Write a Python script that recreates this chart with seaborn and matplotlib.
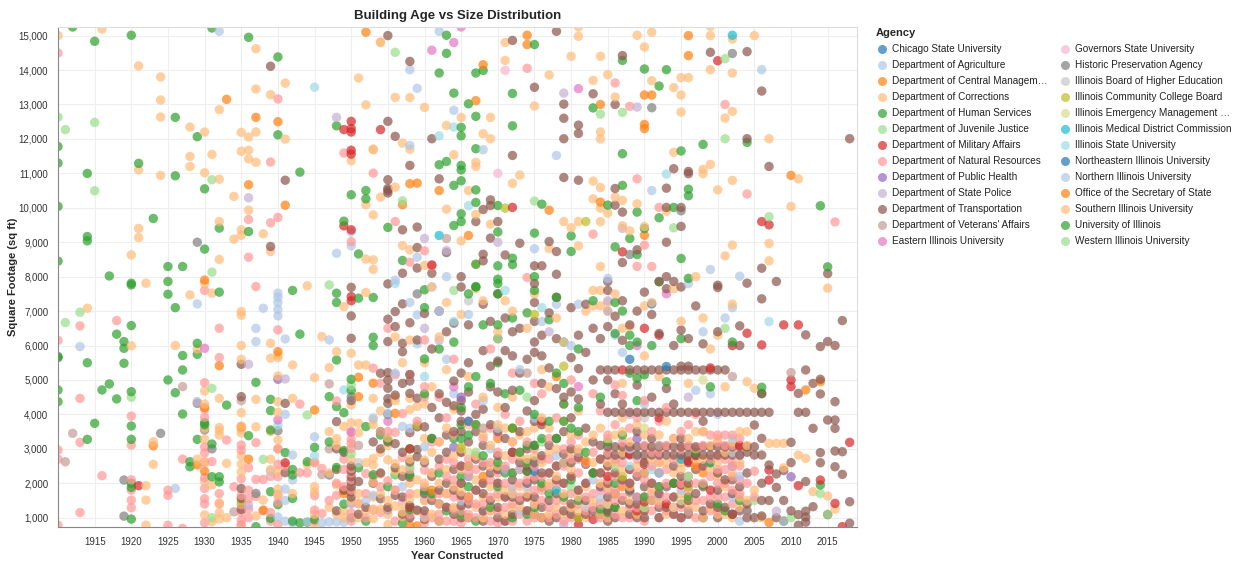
import pandas as pd
import seaborn as sns
import matplotlib.pyplot as plt
from matplotlib.lines import Line2D
from matplotlib.ticker import FuncFormatter

sns.set_style('white')
plt.rcParams['font.family'] = ['Liberation Sans', 'DejaVu Sans']

AGENCIES = [
    'Chicago State University', 'Department of Agriculture',
    'Department of Central Managem\u2026', 'Department of Corrections',
    'Department of Human Services', 'Department of Juvenile Justice',
    'Department of Military Affairs', 'Department of Natural Resources',
    'Department of Public Health', 'Department of State Police',
    'Department of Transportation', "Department of Veterans' Affairs",
    'Eastern Illinois University', 'Governors State University',
    'Historic Preservation Agency', 'Illinois Board of Higher Education',
    'Illinois Community College Board', 'Illinois Emergency Management \u2026',
    'Illinois Medical District Commission', 'Illinois State University',
    'Northeastern Illinois University', 'Northern Illinois University',
    'Office of the Secretary of State', 'Southern Illinois University',
    'University of Illinois', 'Western Illinois University',
]

# (year constructed, square footage) per agency
chicago_state = [(1988, 5600), (1993, 5390), (1989, 1590), (1975, 2350)]

dept_agriculture = [
    (1913, 5970), (1926, 1850), (1929, 7210), (1932, 15125), (1937, 6500), (1937, 6115), (1938, 7083),
    (1940, 7520), (1940, 7400), (1940, 7250), (1940, 7050), (1940, 6860), (1940, 1020),
    (1941, 6190), (1941, 4000), (1941, 1830), (1941, 1500), (1941, 900),
    (1942, 2820), (1942, 2100), (1942, 850), (1947, 6163), (1947, 880), (1948, 8680), (1948, 880),
    (1949, 870), (1950, 8895), (1950, 9300), (1950, 1450), (1952, 1500), (1953, 3900), (1953, 1650),
    (1955, 4040), (1956, 7900), (1956, 5200), (1957, 3650), (1957, 1900), (1958, 14010), (1958, 11810),
    (1958, 7250), (1958, 3600), (1959, 13470), (1959, 8565), (1959, 6890), (1959, 6050), (1960, 3060),
    (1960, 1050), (1945, 3350), (1939, 2350), (1946, 850), (1944, 880),
]

dept_cms = [
    (1933, 13150), (1937, 12625), (1940, 12500), (1941, 10075), (1936, 10670), (1952, 15100),
    (1958, 10700), (1957, 10090), (1959, 10715), (1962, 10500), (1966, 9195), (1945, 4128),
    (1949, 1800), (1951, 5078), (1951, 4515), (1953, 4905), (1936, 2700), (1938, 1220), (1923, 3090),
    (1929, 2530), (1932, 5415), (1930, 7900), (1930, 4200), (1930, 2350), (1940, 5823), (1958, 780),
    (1956, 4030), (1935, 3640), (1959, 760), (1949, 1700),
]

dept_corrections = [
    (1910, 15000), (1916, 15190), (1921, 14120), (1924, 13800), (1924, 13130), (1924, 12635),
    (1928, 12345), (1930, 12200), (1921, 11100), (1924, 10940), (1928, 11490), (1928, 11200),
    (1930, 11017), (1931, 11550), (1932, 10830), (1921, 9400), (1921, 9135), (1920, 8630),
    (1932, 8500), (1932, 9600), (1932, 12850), (1934, 10330), (1934, 9090), (1935, 12190),
    (1935, 11640), (1935, 9360), (1935, 9200), (1936, 12055), (1936, 11670), (1936, 9930),
    (1937, 14620), (1937, 13450), (1937, 12200), (1937, 11320), (1938, 9245), (1939, 13285),
    (1939, 8730), (1941, 13620), (1941, 11995), (1951, 13770), (1952, 12990), (1952, 10090),
    (1953, 11685), (1953, 9795), (1953, 8488), (1953, 8215), (1954, 14815), (1954, 10310),
    (1956, 13207), (1956, 10600), (1957, 11880), (1957, 8905), (1958, 13200), (1958, 11700),
    (1958, 8780), (1960, 12916), (1960, 8330), (1950, 11365), (1952, 8510), (1954, 14800),
    (1953, 11705), (1936, 11420),
    (1914, 7083), (1920, 5990), (1922, 7810), (1922, 1930), (1922, 1510), (1922, 785), (1923, 3207),
    (1923, 2550), (1926, 6000), (1928, 7470), (1929, 5900), (1929, 2700), (1930, 7800), (1930, 4680),
    (1930, 4300), (1930, 3600), (1930, 3280), (1930, 2630), (1930, 2050), (1930, 1080), (1931, 7520),
    (1931, 1950), (1931, 880), (1932, 4465), (1932, 3620), (1932, 3530), (1932, 3400), (1932, 1430),
    (1932, 1150), (1932, 960), (1933, 2578), (1933, 1000), (1935, 6986), (1935, 6880), (1935, 6000),
    (1935, 5600), (1935, 4050), (1935, 3660), (1935, 3560), (1935, 3460), (1935, 2800), (1935, 2560),
    (1935, 2330), (1935, 770), (1937, 4437), (1937, 3640), (1937, 1050), (1938, 1510), (1939, 6065),
    (1939, 5630), (1939, 3500), (1939, 2700), (1939, 2400), (1940, 5115), (1940, 5720), (1940, 5650),
    (1940, 4370), (1940, 4060), (1940, 3256), (1940, 3000), (1940, 2350), (1940, 1830), (1940, 1680),
    (1942, 5435), (1942, 4465), (1942, 1700), (1944, 7733), (1944, 2540), (1945, 5068), (1945, 1900),
    (1945, 1750), (1945, 1100), (1946, 6260), (1947, 5360), (1947, 3500), (1947, 2300), (1948, 5823),
    (1948, 3300), (1948, 3100), (1948, 1950), (1949, 7130), (1949, 3650), (1949, 1200), (1950, 5775),
    (1950, 4273), (1950, 3760), (1950, 1000), (1951, 5435), (1951, 3740), (1951, 3470), (1951, 1700),
    (1951, 1430), (1952, 7540), (1952, 5435), (1953, 4465), (1953, 3840), (1953, 3700), (1953, 2720),
    (1953, 2530), (1953, 2030), (1953, 1600), (1953, 970), (1954, 4100), (1954, 2270), (1954, 1250),
    (1955, 3320), (1955, 3100), (1955, 2680), (1955, 1500), (1956, 6250), (1956, 4500), (1956, 4400),
    (1956, 2570), (1956, 2350), (1956, 1340), (1957, 5500), (1957, 2390), (1957, 1170), (1957, 1030),
    (1958, 6160), (1958, 4470), (1958, 4140), (1958, 2000), (1958, 1550), (1959, 4230), (1959, 2100),
    (1959, 1700), (1960, 4300), (1960, 2670), (1960, 2000), (1960, 1000),
    (1945, 2600), (1945, 800), (1947, 1300), (1948, 1100), (1950, 2700), (1950, 1500), (1951, 1000),
    (1952, 2600), (1952, 1200), (1954, 2900), (1954, 1700), (1955, 1100), (1956, 1800), (1957, 1400),
    (1958, 2700), (1959, 1200), (1953, 1250), (1955, 800), (1949, 1000),
]

dept_human_services = [
    (1912, 15250), (1915, 14835), (1920, 15010), (1910, 11780), (1910, 11300), (1914, 10998),
    (1910, 10040), (1921, 11290), (1926, 12625), (1929, 12065), (1926, 10930), (1930, 10550),
    (1923, 9690), (1914, 9165), (1914, 9040), (1910, 8450), (1917, 8020), (1925, 8295), (1927, 8295),
    (1930, 8800), (1932, 9410), (1931, 15220), (1936, 14950), (1936, 9310), (1940, 14380),
    (1940, 12120), (1943, 11035), (1948, 12380), (1949, 9610), (1950, 10378), (1951, 8660),
    (1952, 10500), (1952, 10260), (1955, 9430), (1957, 8470), (1920, 7810),
    (1910, 5680), (1910, 5650), (1910, 4710), (1910, 4370), (1914, 5500), (1914, 3275), (1915, 3740),
    (1916, 4710), (1917, 4885), (1918, 6330), (1918, 4450), (1919, 6115), (1919, 5920), (1919, 5485),
    (1920, 7760), (1920, 6580), (1920, 4660), (1920, 3663), (1920, 3275), (1920, 2000), (1920, 1880),
    (1920, 960), (1925, 7860), (1925, 7490), (1925, 5000), (1926, 7100), (1926, 4630), (1927, 5710),
    (1927, 5290), (1927, 4010), (1928, 2625), (1928, 2480), (1929, 6065), (1929, 5745), (1929, 3275),
    (1930, 3760), (1930, 3700), (1931, 3140), (1931, 2190), (1932, 7550), (1932, 2190), (1932, 2040),
    (1933, 4270), (1936, 3382), (1937, 4930), (1937, 740), (1939, 4437), (1939, 4110), (1939, 3547),
    (1939, 1755), (1939, 980), (1940, 1380), (1941, 2890), (1942, 7600), (1942, 2400), (1942, 2240),
    (1942, 1560), (1943, 6330), (1944, 2625), (1944, 870), (1945, 3043), (1945, 950), (1947, 4515),
    (1947, 3200), (1948, 7520), (1948, 7250), (1948, 5580), (1948, 4225), (1948, 2460), (1949, 4050),
    (1949, 2950), (1949, 1396), (1950, 5020), (1950, 4700), (1951, 7375), (1951, 2450), (1952, 3645),
    (1952, 900), (1953, 7394), (1953, 6240), (1953, 6000), (1954, 3500), (1954, 3400), (1955, 3250),
    (1955, 1900), (1956, 2250), (1957, 840), (1958, 3000), (1958, 2250), (1958, 1230), (1960, 7620),
    (1960, 7100), (1960, 5610), (1960, 1800), (1943, 850), (1942, 900), (1953, 2250),
]

dept_juvenile = [
    (1910, 12635), (1911, 12270), (1915, 12480), (1915, 10495), (1931, 10815), (1931, 8130),
    (1911, 6667), (1913, 6967), (1920, 4500), (1931, 4757), (1931, 1000), (1938, 2695), (1944, 3982),
    (1947, 7760), (1950, 4850), (1950, 2860), (1956, 14515), (1957, 10200), (1956, 2250), (1958, 2500),
]

dept_military = [
    (1949, 12270), (1950, 12510), (1950, 12300), (1950, 12200), (1954, 12270), (1950, 11670),
    (1950, 11560), (1949, 9475), (1950, 9360), (1950, 7420), (1950, 7300), (1941, 2595), (1921, 1930),
    (1961, 8340), (1972, 10010), (1987, 8720), (2000, 14270), (2006, 9600), (2007, 9506), (1958, 3000),
    (1987, 5290), (1992, 6300), (1990, 6500), (2004, 6357), (1993, 1400), (1996, 2650), (2002, 6000),
    (2006, 6017), (2009, 6600), (2011, 6600), (2010, 5000), (2010, 4807), (2007, 2384), (2007, 2093),
    (2011, 1930), (2014, 2093), (2016, 1415), (2018, 3188), (2017, 740), (1990, 1460), (1990, 2550),
    (1976, 3800), (1972, 2900), (1985, 2200), (1997, 2800), (1999, 1800), (2003, 3100), (1989, 1200),
    (1966, 1600), (1974, 2350), (1981, 800), (1999, 5350), (1992, 3900), (1988, 2850), (1958, 1300),
    (1983, 950), (1995, 1950), (2002, 1100),
]

dept_natural_resources = [
    (1910, 14495), (1936, 9660), (1936, 8565), (1939, 11330), (1939, 9565), (1940, 13160),
    (1940, 9720), (1949, 11590), (1950, 9020), (1953, 11006), (1956, 9600), (1958, 8420), (1960, 8750),
    (1961, 8315), (1974, 14050), (1986, 13624), (1988, 12945), (1989, 10840), (1992, 10010),
    (1983, 9234), (1990, 8915), (1991, 8295), (1989, 8300), (2001, 13000), (2004, 10400),
    (2016, 9590), (1974, 7975),
    (1910, 6150), (1910, 2965), (1910, 2700), (1910, 785), (1913, 6570), (1913, 4465), (1913, 3188),
    (1913, 1150), (1916, 2220), (1918, 6725), (1920, 3950), (1920, 3110), (1920, 2100), (1920, 1800),
    (1920, 1510), (1920, 1290), (1925, 1800), (1925, 1650), (1925, 780), (1927, 2700), (1927, 690),
    (1930, 7600), (1930, 4920), (1930, 4150), (1930, 3915), (1930, 3060), (1930, 2880), (1930, 2600),
    (1930, 2160), (1930, 1850), (1930, 1550), (1930, 1400), (1930, 850), (1931, 2630), (1932, 6500),
    (1932, 5650), (1932, 1700), (1932, 1400), (1933, 3256), (1934, 1900), (1935, 3110), (1935, 2960),
    (1935, 2130), (1935, 1650), (1935, 1380), (1935, 1150), (1935, 930), (1935, 800), (1936, 2450),
    (1936, 1800), (1936, 1550), (1936, 1250), (1936, 1000), (1937, 7713), (1937, 3180), (1937, 2112),
    (1937, 1620), (1938, 2112), (1938, 1200), (1939, 2200), (1939, 1150), (1939, 900), (1940, 6455),
    (1940, 3000), (1940, 2550), (1940, 2190), (1940, 1650), (1940, 1450), (1940, 800), (1941, 2500),
    (1943, 2307), (1943, 4300), (1944, 2300), (1945, 1640), (1945, 1220), (1946, 2430), (1946, 1120),
    (1948, 4390), (1948, 2000), (1948, 1650), (1949, 2700), (1949, 2400), (1949, 1900), (1950, 3470),
    (1950, 3270), (1950, 3150), (1950, 3010), (1950, 2430), (1950, 2300), (1950, 2100), (1950, 1140),
    (1951, 1400), (1952, 2280), (1953, 5340), (1953, 2190), (1953, 1220), (1954, 4905), (1954, 3500),
    (1955, 6500), (1955, 3500), (1955, 2070), (1956, 3480), (1956, 5150), (1957, 4020), (1957, 2750),
    (1958, 5150), (1958, 1700), (1959, 3800), (1960, 6160), (1960, 4800), (1960, 4510), (1960, 2380),
    (1960, 1500), (1961, 3200), (1961, 1000), (1962, 4500), (1962, 2500), (1962, 1700), (1963, 3900),
    (1963, 2200), (1963, 1300), (1964, 5600), (1964, 3400), (1964, 2600), (1964, 1600), (1964, 900),
    (1965, 2900), (1965, 2000), (1965, 1200), (1966, 3800), (1966, 2700), (1966, 1500), (1967, 4300),
    (1967, 2400), (1967, 1800), (1967, 1000), (1968, 3300), (1968, 2600), (1968, 1400), (1969, 5900),
    (1969, 3600), (1969, 2100), (1969, 1200), (1970, 2900), (1970, 2300), (1970, 1700), (1971, 4000),
    (1971, 2000), (1971, 1300), (1971, 900), (1972, 5200), (1972, 2700), (1972, 1900), (1973, 3800),
    (1973, 2400), (1973, 1600), (1974, 3200), (1974, 2100), (1974, 1200), (1975, 4900), (1975, 3000),
    (1975, 2500), (1975, 1800), (1975, 1000), (1976, 4600), (1976, 2200), (1976, 1500), (1977, 2700),
    (1977, 1900), (1977, 1300), (1978, 3900), (1978, 2500), (1978, 1100), (1979, 4300), (1979, 3000),
    (1979, 2000), (1980, 5000), (1980, 2700), (1980, 1700), (1980, 1000), (1981, 3400), (1981, 2300),
    (1981, 1400), (1982, 2000), (1982, 1200), (1983, 4600), (1983, 2900), (1983, 1700), (1984, 4100),
    (1984, 2300), (1984, 1400), (1985, 3400), (1985, 2500), (1985, 1800), (1985, 1100), (1986, 4850),
    (1986, 3700), (1986, 2200), (1986, 1500), (1987, 4550), (1987, 3200), (1987, 2000), (1987, 1000),
    (1988, 3600), (1988, 2400), (1988, 1300), (1989, 3900), (1989, 2700), (1989, 1600), (1990, 4400),
    (1990, 2100), (1990, 1200), (1991, 3500), (1991, 2500), (1991, 1700), (1992, 3800), (1992, 2900),
    (1992, 1400), (1993, 4200), (1993, 2400), (1993, 1600), (1994, 3300), (1994, 2000), (1994, 1100),
    (1995, 3500), (1995, 2700), (1995, 1300), (1996, 3700), (1996, 2200), (1997, 4000), (1997, 2500),
    (1997, 1500), (1998, 3100), (1998, 2000), (1999, 3400), (1999, 2700), (1999, 1200), (2000, 3400),
    (2000, 3200), (2000, 2800), (2000, 1600), (2001, 3400), (2001, 3100), (2001, 2400), (2002, 3400),
    (2002, 2600), (2002, 1800), (2003, 3300), (2003, 2100), (2005, 2350),
]

# second pass over the crowded band below 3,500 sq ft
dnr_low_band = [
    (1945, 2600), (1945, 900), (1947, 1500), (1950, 1800), (1950, 1400), (1950, 900), (1952, 1000),
    (1952, 1700), (1954, 1900), (1954, 1150), (1956, 1800), (1956, 900), (1958, 2400), (1958, 1100),
    (1960, 1900), (1960, 1100), (1960, 850), (1961, 2300), (1961, 1600), (1962, 3200), (1962, 1100),
    (1963, 2700), (1963, 1700), (1963, 900), (1964, 2100), (1964, 1250), (1965, 2500), (1965, 1600),
    (1965, 850), (1966, 2300), (1966, 1100), (1967, 2800), (1967, 1400), (1968, 2000), (1968, 1000),
    (1969, 2600), (1969, 1600), (1969, 900), (1970, 3400), (1970, 2000), (1970, 1200), (1970, 850),
    (1971, 2500), (1971, 1600), (1972, 3200), (1972, 2300), (1972, 1400), (1972, 900), (1973, 2900),
    (1973, 2000), (1973, 1100), (1974, 2600), (1974, 1600), (1974, 900), (1975, 2200), (1975, 1400),
    (1976, 2700), (1976, 1800), (1976, 1000), (1977, 3300), (1977, 2300), (1977, 1000), (1978, 2000),
    (1978, 1500), (1979, 2500), (1979, 1500), (1979, 900), (1980, 3200), (1980, 2200), (1980, 1300),
    (1981, 2700), (1981, 1800), (1981, 1000), (1982, 2600), (1982, 1600), (1983, 2300), (1983, 1300),
    (1984, 2700), (1984, 1800), (1984, 1000), (1985, 2900), (1985, 2100), (1985, 1400), (1986, 2700),
    (1986, 1800), (1986, 1100), (1987, 2600), (1987, 1600), (1988, 3000), (1988, 2000), (1988, 1000),
    (1989, 2300), (1989, 1300), (1990, 3100), (1990, 2600), (1990, 1600), (1990, 900), (1991, 2900),
    (1991, 2000), (1991, 1200), (1992, 2600), (1992, 1900), (1992, 1000), (1993, 3100), (1993, 2000),
    (1993, 1200), (1994, 2700), (1994, 1600), (1995, 3000), (1995, 2000), (1995, 1000), (1996, 3100),
    (1996, 2600), (1996, 1800), (1996, 1200), (1997, 3000), (1997, 2000), (1997, 1000), (1998, 3500),
    (1998, 2500), (1998, 1500), (1999, 2200), (1999, 1600), (2000, 2400), (2000, 2000), (2000, 1200),
    (2001, 2700), (2001, 2000), (2001, 1600), (2002, 3100), (2002, 2200), (2002, 1400), (2003, 2500),
    (2003, 1700), (2004, 2000), (2004, 1200), (2005, 1600),
]

dept_public_health = [(1940, 5020), (2010, 2190), (1965, 4500), (1989, 3300), (1964, 3050)]

dept_state_police = [
    (1936, 10290), (1948, 12625), (1979, 13330), (1989, 12925), (1936, 5455), (1941, 5030),
    (1929, 4370), (1936, 1360), (1960, 9110), (1963, 8760), (1970, 9000), (1950, 1440), (1960, 6500),
    (1987, 9400), (1988, 4000), (1996, 4500), (2008, 1190), (2009, 910), (1962, 6150), (1985, 7300),
    (1973, 2400), (1977, 6400), (2003, 2800), (1968, 1200), (1979, 800), (1992, 1650),
]

dept_transportation = [
    (1939, 14110), (1939, 8875), (1941, 10800), (1955, 15000), (1955, 12510), (1955, 10815),
    (1955, 10560), (1955, 10430), (1956, 12075), (1957, 9360), (1957, 8100), (1958, 14250),
    (1958, 11230), (1959, 8845), (1959, 9440), (1959, 8250), (1955, 10500), (1961, 12005),
    (1961, 8100), (1962, 10840), (1963, 8700), (1965, 8000), (1967, 9600), (1968, 9950), (1968, 8650),
    (1968, 8460), (1969, 10230), (1969, 10065), (1969, 9120), (1970, 9600), (1971, 8630), (1972, 14860),
    (1972, 11520), (1973, 8970), (1975, 13500), (1975, 8315), (1976, 8315), (1977, 9020), (1978, 15125),
    (1978, 8730), (1978, 8070), (1979, 13010), (1979, 12600), (1979, 12005), (1979, 10880),
    (1981, 12400), (1981, 12160), (1981, 10800), (1983, 13310), (1986, 13000), (1986, 10560),
    (1986, 10077), (1987, 14420), (1987, 9874), (1987, 8410), (1989, 8780), (1993, 10570),
    (1993, 10010), (1993, 9000), (1994, 11134), (1995, 10010), (1995, 9458), (1996, 11056),
    (1996, 10990), (1999, 14515), (2004, 14535), (2006, 13390), (2004, 12006), (2006, 8245),
    (2007, 11200), (2015, 8090), (2018, 12006), (1985, 7860), (1992, 7860), (1993, 8000), (1994, 7860),
    (2000, 7685),
    (1935, 5455), (1935, 4515), (1935, 1850), (1935, 1560), (1935, 1240), (1941, 4320), (1941, 2307),
    (1948, 3790), (1948, 3000), (1948, 2400), (1948, 1200), (1949, 2900), (1949, 1800), (1950, 7690),
    (1950, 6860), (1950, 6210), (1950, 4400), (1950, 2500), (1950, 2350), (1950, 2190), (1950, 2050),
    (1950, 1900), (1950, 1750), (1950, 1600), (1951, 2050), (1951, 1100), (1953, 3200), (1953, 2000),
    (1954, 5195), (1954, 3000), (1954, 1550), (1955, 7790), (1955, 6765), (1955, 6115), (1955, 5213),
    (1955, 5000), (1955, 4760), (1955, 4460), (1955, 4320), (1955, 3200), (1955, 1300), (1956, 6986),
    (1956, 6550), (1956, 4560), (1956, 3150), (1956, 2450), (1956, 1650), (1957, 7210), (1957, 6065),
    (1957, 5820), (1957, 4900), (1957, 2900), (1957, 1600), (1958, 6660), (1958, 5160), (1958, 4970),
    (1958, 4610), (1958, 3470), (1958, 2620), (1958, 2180), (1958, 1350), (1958, 1000), (1959, 6160),
    (1959, 4470), (1959, 3640), (1959, 2980), (1959, 2770), (1959, 1220), (1960, 6930), (1960, 3640),
    (1960, 2600), (1960, 1200), (1960, 950), (1961, 5900), (1961, 4200), (1961, 3300), (1961, 2200),
    (1961, 1500), (1962, 7000), (1962, 4600), (1962, 3900), (1962, 2700), (1962, 1800), (1962, 900),
    (1963, 6400), (1963, 4350), (1963, 3400), (1963, 2900), (1963, 2000), (1963, 1300), (1964, 6650),
    (1964, 4970), (1964, 4250), (1964, 3500), (1964, 2400), (1964, 1100), (1965, 7700), (1965, 5200),
    (1965, 4400), (1965, 4100), (1965, 3800), (1965, 3500), (1965, 2900), (1965, 2500), (1965, 2000),
    (1965, 1650), (1965, 1350), (1965, 1000), (1966, 6600), (1966, 5500), (1966, 4650), (1966, 3200),
    (1966, 2200), (1966, 1400), (1967, 4000), (1967, 3500), (1967, 2700), (1967, 1800), (1968, 7200),
    (1968, 5850), (1968, 4150), (1968, 3100), (1968, 2500), (1968, 1700), (1968, 1200), (1969, 6700),
    (1969, 5400), (1969, 4800), (1969, 3700), (1969, 2300), (1969, 1500), (1970, 7500), (1970, 6200),
    (1970, 5550), (1970, 4650), (1970, 3500), (1970, 2800), (1970, 2000), (1970, 1300), (1971, 6800),
    (1971, 5850), (1971, 4200), (1971, 3300), (1971, 2400), (1971, 1600), (1971, 900), (1972, 6400),
    (1972, 5700), (1972, 4700), (1972, 2900), (1972, 2100), (1972, 1100), (1973, 6500), (1973, 5200),
    (1973, 3500), (1973, 2600), (1973, 1500), (1974, 5600), (1974, 4100), (1974, 3000), (1974, 2000),
    (1974, 1200), (1975, 7800), (1975, 7250), (1975, 6700), (1975, 6100), (1975, 5800), (1975, 4400),
    (1975, 3800), (1975, 3100), (1975, 2600), (1975, 2100), (1975, 1600), (1975, 1100), (1976, 6300),
    (1976, 5700), (1976, 4900), (1976, 3700), (1976, 2800), (1976, 1900), (1976, 1300), (1977, 6950),
    (1977, 5350), (1977, 3100), (1977, 2300), (1977, 1500), (1977, 900), (1978, 7400), (1978, 6200),
    (1978, 4750), (1978, 3300), (1978, 2500), (1978, 1700), (1979, 6100), (1979, 4500), (1979, 3500),
    (1979, 2850), (1979, 2000), (1979, 1200), (1980, 7100), (1980, 5650), (1980, 4650), (1980, 3900),
    (1980, 3000), (1980, 2200), (1980, 1400), (1981, 6300), (1981, 5330), (1981, 4450), (1981, 2750),
    (1981, 1800), (1981, 1000), (1982, 7200), (1982, 5800), (1982, 3600), (1982, 2550), (1982, 1500),
    (1983, 6500), (1983, 5000), (1983, 3200), (1983, 2300), (1983, 1200), (1984, 6200), (1984, 5290),
    (1984, 4300), (1984, 3100), (1984, 2700), (1984, 1900), (1985, 7600), (1985, 6550), (1985, 5290),
    (1985, 5000), (1985, 4060), (1985, 3060), (1985, 2820), (1985, 2500), (1985, 2000), (1985, 1600),
    (1985, 1200), (1985, 900), (1986, 6850), (1986, 5290), (1986, 4600), (1986, 4060), (1986, 3060),
    (1986, 2820), (1986, 2300), (1986, 1700), (1986, 1300), (1987, 7300), (1987, 6150), (1987, 4300),
    (1987, 4060), (1987, 3060), (1987, 2820), (1987, 2100), (1987, 1500), (1988, 6600), (1988, 5290),
    (1988, 4060), (1988, 3060), (1988, 2820), (1988, 2400), (1988, 1800), (1988, 1100), (1989, 7000),
    (1989, 5290), (1989, 4850), (1989, 4060), (1989, 3500), (1989, 3060), (1989, 2820), (1989, 2200),
    (1989, 1400), (1989, 1000), (1990, 7550), (1990, 5290), (1990, 4060), (1990, 3060), (1990, 2820),
    (1990, 2600), (1990, 1900), (1990, 1200), (1991, 6900), (1991, 5290), (1991, 4500), (1991, 4060),
    (1991, 3300), (1991, 3060), (1991, 2820), (1991, 2000), (1991, 1500), (1992, 6350), (1992, 5290),
    (1992, 4060), (1992, 3060), (1992, 2820), (1992, 2300), (1992, 1700), (1992, 1000), (1993, 7650),
    (1993, 5290), (1993, 4750), (1993, 4060), (1993, 3060), (1993, 2820), (1993, 1900), (1993, 1300),
    (1994, 6000), (1994, 5290), (1994, 4300), (1994, 4060), (1994, 3060), (1994, 2820), (1994, 2500),
    (1994, 1600), (1995, 7700), (1995, 6450), (1995, 5400), (1995, 5290), (1995, 4060), (1995, 3300),
    (1995, 3060), (1995, 2820), (1995, 2200), (1995, 1400), (1995, 1000), (1996, 6200), (1996, 5400),
    (1996, 5290), (1996, 4060), (1996, 3060), (1996, 2820), (1996, 2000), (1996, 1500), (1997, 7150),
    (1997, 5290), (1997, 4060), (1997, 3060), (1997, 2820), (1997, 2400), (1997, 1700), (1998, 6050),
    (1998, 5290), (1998, 4060), (1998, 3800), (1998, 3060), (1998, 2820), (1998, 1900), (1998, 1200),
    (1999, 5290), (1999, 4060), (1999, 3060), (1999, 2820), (1999, 2600), (1999, 1400), (2000, 7750),
    (2000, 6400), (2000, 5290), (2000, 4060), (2000, 3060), (2000, 2820), (2000, 2300), (2000, 1800),
    (2000, 1000), (2001, 5290), (2001, 4060), (2001, 3060), (2001, 2820), (2001, 2100), (2001, 1300),
    (2002, 4060), (2002, 3060), (2002, 2820), (2002, 2500), (2002, 1700), (2003, 6570), (2003, 6000),
    (2003, 4060), (2003, 3060), (2003, 2820), (2003, 1900), (2003, 1200), (2004, 7810), (2004, 4060),
    (2004, 3060), (2004, 2900), (2004, 2300), (2005, 4060), (2005, 3692), (2005, 3060), (2005, 2820),
    (2005, 1000), (2006, 7355), (2006, 4610), (2006, 4060), (2006, 3305), (2006, 2820), (2006, 1050),
    (2007, 4060), (2007, 2530), (2007, 1500), (2008, 7860), (2008, 2270), (2008, 1880), (2009, 2370),
    (2009, 1500), (2010, 3188), (2010, 1200), (2011, 4610), (2011, 4060), (2011, 1090), (2011, 780),
    (2012, 6310), (2012, 5290), (2012, 4060), (2012, 2050), (2012, 1190), (2012, 1020), (2012, 870),
    (2013, 4900), (2013, 3595), (2013, 1320), (2014, 5970), (2014, 5020), (2014, 4593), (2014, 2890),
    (2014, 2597), (2015, 6115), (2015, 3837), (2015, 1090), (2016, 6000), (2016, 4370), (2016, 3837),
    (2016, 3595), (2016, 2936), (2016, 2480), (2017, 6725), (2017, 2917), (2017, 2258), (2018, 1464),
    (2018, 840),
]

dot_low_band = [
    (1952, 1300), (1954, 2300), (1957, 2200), (1957, 1100), (1960, 1700), (1962, 1400), (1964, 1800),
    (1966, 2500), (1966, 1000), (1968, 2000), (1968, 900), (1970, 2400), (1970, 1000), (1972, 1600),
    (1974, 2500), (1974, 1600), (1976, 2300), (1976, 1000), (1978, 2100), (1978, 1000), (1980, 2600),
    (1980, 1100), (1982, 2000), (1982, 1100), (1984, 2300), (1984, 1100), (1986, 1000), (1988, 2000),
    (1988, 1400), (1990, 2300), (1990, 1000), (1992, 1300), (1994, 2000), (1994, 1100), (1996, 2600),
    (1996, 1100), (1998, 2500), (1998, 1000), (2000, 1300), (2002, 2100), (2002, 1100), (2004, 1400),
    (2004, 1000), (2006, 2000), (2006, 1500), (2008, 1000), (2010, 2600),
]

dept_veterans = [
    (1911, 2625), (1912, 3450), (1927, 4807), (1934, 1170), (1935, 4400), (1947, 4885), (1947, 3000),
    (1946, 2250), (1950, 1000), (1951, 3100), (1955, 1220), (1963, 9110), (1962, 7000), (1974, 5200),
    (1981, 2900), (2002, 5100), (2010, 5213), (1985, 7000), (1992, 3100), (1968, 3600), (1996, 1200),
]

eastern_illinois = [
    (1961, 14575), (1964, 14800), (1965, 15250), (1981, 13460), (1930, 5920), (1940, 3840),
    (1950, 3500), (1955, 3800), (1989, 6000), (1993, 7500), (1964, 4800), (1967, 3700), (1981, 4807),
]

governors_state = [(1971, 13990), (1970, 11000), (1966, 2400), (1992, 2800), (2002, 2500), (1984, 1800), (1957, 1500)]

historic_preservation = [
    (1919, 2093), (1919, 1045), (1924, 3450), (1929, 9000), (1929, 4320), (1930, 3550), (1931, 3000),
    (1937, 1705), (1940, 3527), (1947, 2240), (1950, 4515), (1955, 4000), (1991, 12906), (2002, 14480),
    (1988, 8643), (1995, 9913), (1959, 7500), (1988, 1750), (2004, 1200), (1975, 2650),
]

board_higher_ed = [(1951, 2600), (1960, 1650), (1966, 7300), (1972, 1900), (1982, 1300), (1990, 3900), (2002, 2900)]

community_college_board = [
    (1982, 9600), (1971, 9990), (1935, 1450), (1965, 3050), (1975, 6900), (1979, 5400), (1987, 2200),
    (1996, 1900), (1959, 3700), (1981, 1000),
]

emergency_mgmt = [(1979, 6100), (1966, 2900), (1990, 3600), (1995, 1500), (1998, 5000)]

medical_district = [(1962, 9195), (2002, 15010), (1978, 1800), (1995, 2700)]

illinois_state = [
    (1945, 13500), (1962, 12090), (1964, 12345), (1966, 10060), (1993, 10980), (1940, 3690),
    (1945, 2800), (1949, 4710), (1956, 7800), (1960, 5100), (1964, 6700), (1971, 7600), (1976, 7100),
    (1989, 2800), (1991, 2400), (1999, 2600), (2002, 3300), (2007, 6696), (1988, 2500), (1985, 1400),
]

northeastern = [(1991, 7210), (1966, 3800), (1979, 2600)]

northern_illinois = [
    (1962, 15125), (1964, 12830), (1968, 11685), (1975, 8810), (1963, 8000), (1978, 11520),
    (1991, 10500), (1999, 8207), (2003, 8013), (2006, 14010), (1985, 7950), (1996, 7800),
    (1961, 7700), (1962, 7000), (1963, 5600), (1964, 4600), (1966, 6900), (1966, 2200), (1968, 4400),
    (1969, 3000), (1970, 3600), (1971, 2400), (1972, 1700), (1973, 5300), (1974, 1900), (1975, 3900),
    (1976, 6700), (1978, 7200), (1978, 2800), (1980, 6000), (1981, 7200), (1984, 1600), (1986, 6300),
    (1987, 5800), (1988, 3000), (1990, 4300), (1992, 2300), (1995, 1800), (1997, 4700), (1998, 6400),
    (1999, 4600), (2000, 4000), (2001, 6800), (2002, 7100), (2002, 1600), (2003, 2200),
    (1965, 1500), (1973, 1200), (1983, 2100), (1994, 1300), (2003, 900),
]

secretary_of_state = [
    (1968, 14155), (1967, 13110), (1974, 15010), (1974, 14740), (1977, 9930), (1996, 15000),
    (1996, 14420), (1990, 13275), (1991, 13275), (1984, 13000), (1990, 12420), (1990, 12300),
    (1984, 10165), (1990, 9200), (2010, 10940), (1970, 3300), (1978, 5100), (1982, 2650), (1987, 1900),
    (1997, 2500), (1998, 2300), (2012, 4710), (2014, 4950), (2007, 860), (1968, 2200), (1972, 3600),
    (1961, 1800),
]

southern_illinois = [
    (1963, 12390), (1965, 12625), (1968, 12150), (1969, 12625), (1969, 12005), (1964, 11540),
    (1967, 11320), (1967, 11200), (1973, 10950), (1972, 10710), (1966, 10500), (1963, 9960),
    (1965, 9040), (1969, 9525), (1967, 9805), (1971, 14800), (1971, 14280), (1975, 12955),
    (1977, 13855), (1980, 14400), (1981, 14980), (1981, 15250), (1984, 14400), (1985, 13865),
    (1983, 13700), (1986, 13215), (1984, 12200), (1984, 12000), (1983, 10775), (1984, 10590),
    (1983, 10260), (1985, 9845), (1986, 10310), (1987, 10213), (1989, 10116), (1979, 9600),
    (1980, 9420), (1981, 9600), (1984, 9600), (1987, 9477), (1988, 9330), (1990, 9458), (1989, 15010),
    (1991, 15100), (1990, 14670), (1991, 13690), (1994, 13490), (1995, 13780), (1996, 13780),
    (1995, 13275), (1995, 12780), (1994, 11610), (1999, 11260), (1998, 11115), (1998, 10990),
    (1993, 9900), (1999, 14010), (2002, 13915), (1999, 15000), (1999, 15270), (2002, 14900),
    (2005, 15000), (2001, 12606), (2002, 12800), (2007, 12006), (2000, 10520), (2002, 10795),
    (2010, 10038), (2011, 10840), (2007, 8963), (2007, 8460), (2002, 8915), (2001, 8605), (1997, 8000),
    (1984, 8295), (1984, 9990), (1977, 8815), (1981, 8895), (1967, 8360),
    (1960, 5500), (1961, 7700), (1961, 4800), (1961, 2900), (1962, 6250), (1962, 3200), (1962, 1400),
    (1963, 7250), (1963, 5300), (1963, 2400), (1964, 4150), (1964, 1900), (1965, 6900), (1965, 3000),
    (1965, 1750), (1966, 5100), (1966, 2500), (1966, 1000), (1967, 7650), (1967, 3700), (1967, 2100),
    (1968, 7300), (1968, 4500), (1968, 1600), (1969, 3100), (1969, 1900), (1970, 6400), (1970, 4200),
    (1970, 2500), (1971, 7300), (1971, 3600), (1971, 1800), (1972, 7000), (1972, 4500), (1972, 1300),
    (1973, 2800), (1973, 1900), (1974, 6500), (1974, 2700), (1975, 7500), (1975, 3600), (1975, 1400),
    (1976, 5300), (1976, 2600), (1977, 4800), (1977, 3600), (1977, 1100), (1978, 6800), (1978, 3000),
    (1979, 3800), (1979, 1700), (1980, 3400), (1980, 2400), (1981, 4100), (1981, 1600), (1982, 7000),
    (1982, 3200), (1983, 7600), (1983, 7150), (1983, 2600), (1984, 7600), (1984, 7150), (1984, 3600),
    (1985, 7250), (1985, 3300), (1985, 1400), (1986, 7500), (1986, 2600), (1987, 6500), (1987, 4900),
    (1987, 3900), (1987, 3500), (1987, 2400), (1988, 6550), (1988, 1900), (1989, 3700), (1990, 7150),
    (1990, 5700), (1990, 2300), (1991, 7250), (1991, 1500), (1992, 5100), (1992, 2600), (1993, 3800),
    (1994, 7650), (1994, 3300), (1995, 6700), (1995, 2400), (1996, 4900), (1996, 1600), (1997, 2700),
    (1998, 6800), (1998, 3500), (1999, 5900), (1999, 2400), (2000, 6300), (2000, 3300), (2000, 2600),
    (2001, 4800), (2001, 1900), (2002, 7200), (2002, 3200), (2003, 2600), (2003, 1600), (2004, 4950),
    (2004, 3500), (2005, 4757), (2005, 1800), (2006, 1000), (2007, 3160), (2008, 3160), (2009, 3160),
    (2011, 2820), (2012, 2723), (2013, 1755), (2015, 7665), (2015, 1630), (2016, 1250), (2009, 2450),
]

siu_low_band = [
    (1960, 3300), (1960, 1500), (1961, 2300), (1961, 1100), (1962, 2000), (1962, 900), (1963, 3600),
    (1963, 1700), (1964, 2800), (1964, 1300), (1965, 2400), (1965, 1100), (1966, 3700), (1966, 1600),
    (1967, 2800), (1967, 1300), (1968, 3400), (1968, 1000), (1969, 2500), (1969, 1200), (1970, 3700),
    (1970, 1600), (1971, 2800), (1971, 1100), (1972, 3200), (1972, 1700), (1973, 3400), (1973, 1300),
    (1974, 3500), (1974, 1700), (1975, 2800), (1975, 1100), (1976, 3900), (1976, 1900), (1976, 1000),
    (1977, 2900), (1977, 2000), (1978, 2200), (1978, 1300), (1979, 2600), (1979, 1100), (1980, 2900),
    (1980, 1300), (1981, 3000), (1981, 1200), (1982, 1900), (1982, 1000), (1983, 3400), (1983, 1500),
    (1984, 2000), (1984, 1100), (1985, 2600), (1985, 1900), (1985, 1000), (1986, 3400), (1986, 1700),
    (1987, 2900), (1987, 1200), (1988, 3200), (1988, 1500), (1989, 2500), (1989, 1100), (1990, 3400),
    (1990, 1300), (1991, 2700), (1991, 1800), (1992, 3400), (1992, 1500), (1993, 2600), (1993, 1100),
    (1994, 2300), (1994, 1300), (1995, 2600), (1995, 1700), (1996, 3300), (1996, 1400), (1997, 3500),
    (1997, 1300), (1998, 2700), (1998, 1000), (1999, 3100), (1999, 1300), (2000, 2200), (2000, 1100),
    (2001, 2900), (2001, 1100), (2002, 2300), (2002, 1000), (2003, 3500), (2003, 1300), (2004, 3100),
    (2004, 1500),
]

univ_illinois = [
    (1962, 13915), (1963, 15010), (1963, 14485), (1967, 13915), (1968, 13990), (1964, 13330),
    (1966, 13020), (1967, 12655), (1965, 12335), (1965, 12090), (1967, 11715), (1972, 12380),
    (1962, 11250), (1963, 11345), (1965, 11230), (1965, 11100), (1964, 10650), (1965, 10785),
    (1967, 10520), (1970, 10065), (1976, 10105), (1964, 9485), (1965, 9600), (1970, 9300), (1967, 8360),
    (1970, 8315), (1972, 8535), (1972, 8350), (1975, 14740), (1972, 13320), (1980, 9185), (1980, 8730),
    (1975, 9265), (1975, 8000), (1987, 14280), (1990, 14030), (1993, 14010), (1992, 13535),
    (1983, 12900), (1998, 11840), (1987, 11570), (1995, 11650), (1987, 10650), (1996, 10540),
    (1996, 10350), (1985, 10077), (1989, 9874), (1994, 10010), (2014, 10058), (1990, 9400),
    (1992, 9710), (1986, 8865), (1989, 8643), (1988, 9110), (1995, 8527), (2015, 8285), (2004, 11900),
    (1996, 7950), (1967, 10155), (1965, 9825), (1970, 7925), (1967, 7710),
    (1960, 4600), (1961, 3300), (1961, 1700), (1962, 5900), (1962, 2300), (1963, 1200), (1964, 6100),
    (1964, 3300), (1965, 4200), (1965, 3700), (1965, 3300), (1965, 2200), (1965, 1100), (1966, 7500),
    (1966, 4800), (1966, 3400), (1966, 1900), (1967, 7700), (1967, 5100), (1967, 3700), (1967, 900),
    (1968, 6600), (1968, 2800), (1969, 4900), (1969, 1300), (1970, 7800), (1970, 7500), (1970, 6600),
    (1970, 5500), (1970, 2600), (1970, 1900), (1971, 4600), (1971, 2300), (1972, 6800), (1972, 3600),
    (1972, 2300), (1972, 1000), (1973, 4700), (1973, 2900), (1974, 6950), (1974, 3100), (1974, 2600),
    (1974, 2350), (1974, 1100), (1975, 7600), (1975, 4000), (1975, 3100), (1975, 1300), (1976, 3300),
    (1976, 2000), (1977, 6750), (1977, 3800), (1977, 1700), (1978, 7400), (1978, 5200), (1978, 3300),
    (1979, 4900), (1979, 4300), (1979, 3800), (1979, 1600), (1980, 3600), (1980, 2100), (1981, 5900),
    (1981, 4200), (1981, 3500), (1981, 1500), (1982, 2900), (1983, 7300), (1983, 2300), (1984, 4500),
    (1984, 1250), (1985, 3200), (1985, 1150), (1986, 7250), (1986, 6350), (1986, 2000), (1986, 1300),
    (1987, 7000), (1987, 3400), (1988, 5200), (1988, 6300), (1988, 6000), (1989, 4400), (1989, 6100),
    (1989, 5050), (1990, 5150), (1990, 1600), (1991, 6000), (1992, 7850), (1992, 1900), (1993, 4950),
    (1994, 2000), (1995, 6200), (1996, 1600), (1997, 2900), (1998, 1950), (1999, 4800), (1999, 2600),
    (2000, 1400), (2001, 1200), (2002, 6100), (2003, 1500), (2006, 4787), (2006, 4600), (2014, 1950),
    (2009, 900),
]

western_illinois = [
    (1975, 10195), (1994, 9420), (2001, 14330), (2001, 12006), (1987, 12770), (1984, 12720),
    (2007, 9740), (1967, 2900), (1970, 6200), (1974, 4500), (1976, 3200), (1980, 1900), (1986, 2500),
    (1990, 1300), (1996, 2200), (2001, 6500), (2005, 1500), (2010, 1000), (2014, 1700), (2015, 1100),
    (1964, 7600),
]

POINTS = [
    chicago_state, dept_agriculture, dept_cms, dept_corrections, dept_human_services, dept_juvenile,
    dept_military, dept_natural_resources + dnr_low_band, dept_public_health, dept_state_police,
    dept_transportation + dot_low_band, dept_veterans, eastern_illinois, governors_state,
    historic_preservation, board_higher_ed, community_college_board, emergency_mgmt, medical_district,
    illinois_state, northeastern, northern_illinois, secretary_of_state,
    southern_illinois + siu_low_band, univ_illinois, western_illinois,
]


def build_frame():
    rows = []
    for name, pts in zip(AGENCIES, POINTS):
        for year, sqft in pts:
            rows.append({'agency': name, 'year': year, 'sqft': sqft})
    df = pd.DataFrame(rows)
    return df.sort_values(['year', 'sqft']).reset_index(drop=True)


def main():
    df = build_frame()
    tab20 = sns.color_palette('tab20', 20)
    palette = {name: tab20[i % 20] for i, name in enumerate(AGENCIES)}

    W, H = 1237, 564
    fig = plt.figure(figsize=(W / 100, H / 100), dpi=100)
    left, right, top, bottom = 58, 857, 27, 527
    ax = fig.add_axes([left / W, 1 - bottom / H, (right - left) / W, (bottom - top) / H])

    sns.scatterplot(data=df, x='year', y='sqft', hue='agency', hue_order=AGENCIES,
                    palette=palette, s=46, alpha=0.7, linewidth=0, legend=False, ax=ax)

    ax.set_xlim(1910, 2019)
    ax.set_ylim(730, 15250)
    ax.set_xticks(range(1915, 2016, 5))
    ax.set_yticks(range(1000, 15001, 1000))
    ax.yaxis.set_major_formatter(FuncFormatter(lambda v, p: f'{int(v):,}'))
    ax.tick_params(axis='both', labelsize=7.0, colors='#888888', labelcolor='#333333',
                   length=5, width=0.8, direction='out', pad=2)
    ax.grid(True, color='#eeeeee', linewidth=0.8)
    ax.set_axisbelow(True)
    for side in ('top', 'right'):
        ax.spines[side].set_color('#dddddd')
        ax.spines[side].set_linewidth(0.8)
    for side in ('left', 'bottom'):
        ax.spines[side].set_color('#888888')
        ax.spines[side].set_linewidth(0.8)

    ax.set_xlabel('Year Constructed', fontsize=8, fontweight='bold', labelpad=3)
    ax.set_ylabel('Square Footage (sq ft)', fontsize=8, fontweight='bold')
    ax.yaxis.set_label_coords((18 - left) / (right - left), 0.5)
    ax.set_title('Building Age vs Size Distribution', fontsize=9.5, fontweight='bold', pad=6)

    # legend: two columns of 13, drawn in figure pixels
    fig.text(876 / W, 1 - 33 / H, 'Agency', fontsize=8, fontweight='bold', va='center', ha='left')
    for i, name in enumerate(AGENCIES):
        col, row = divmod(i, 13)
        cx = 882 + col * 183
        cy = 49 + row * 16
        fig.add_artist(Line2D([cx / W], [1 - cy / H], marker='o', markersize=6.5, linestyle='none',
                              color=palette[name], alpha=0.7, markeredgewidth=0,
                              transform=fig.transFigure))
        fig.text((cx + 10) / W, 1 - cy / H, name, fontsize=7.2, va='center', ha='left', color='#222222')

    fig.savefig('out.png', dpi=100)
    plt.close(fig)


if __name__ == '__main__':
    main()
